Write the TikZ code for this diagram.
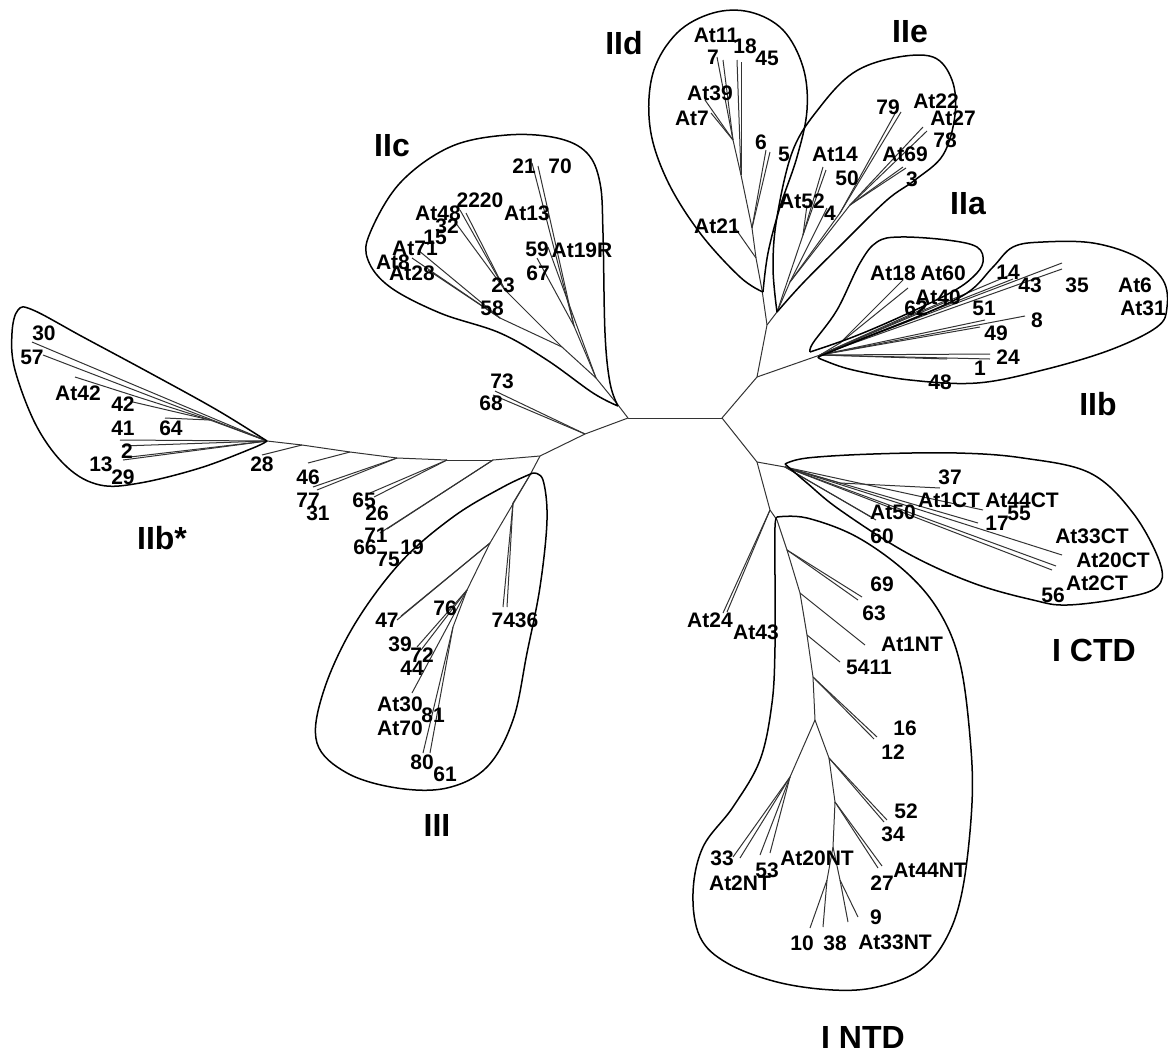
\documentclass[tikz,border=0pt]{standalone}
\usepackage{fontspec}
\setmainfont{Liberation Sans}

\begin{document}
\begin{tikzpicture}[x=1pt,y=-1pt,
  branch/.style={draw=black!80, line width=1pt},
  clade/.style={draw=black, line width=1.5pt, smooth, tension=0.6},
  leaf/.style={font=\fontsize{21}{21}\selectfont\bfseries, inner sep=0pt},
  group/.style={font=\fontsize{32}{32}\selectfont\bfseries, inner sep=0pt}]
\useasboundingbox (0,0) rectangle (1168,1053);

% inner nodes
\foreach \n/\x/\y in {L/628/418, R/722/418, c1/618/405, t1/585/434, t2/540/456,
    r1/757/377, r2/767/325, r3/820/355, d1/757/462, d2/770/510, ct/785/467,
    cb/596/378, cd/574/326, cc/562/347, ce/505/290, cf/500/318,
    i1/762/290, ia/756/258, ib/752/228, ic/741/175, id/733/140,
    e0/777/312, e1/790/282, e2/803/235, e3/840/213, e4/850/205,
    a1/840/343, k1/840/483,
    n1/777/520, n2/787/550, n3/800/593, n4/807/635, n5/813/677, n6/815/720,
    n7/790/777, n8/829/758, n9/835/802, n10/833/847, n11/827/880, n12/840/880,
    g1/530/475, g2/513/503, g3/490/543, g4/467/590, g5/453/627,
    w1/493/460, w2/447/460, w3/397/458, w4/350/452, w5/302/445,
    b0/267/441, bA/210/420}
  \coordinate (\n) at (\x,\y);

% leaf tips
\foreach \n/\x/\y in {30/32/342, 57/43/355, At42/75/377, 42/133/402, 64/165/418,
    41/120/440, 2/122/446, 13/123/460, 29/130/457, 28/262/455,
    46/308/463, 77/313/487, 31/317/490, 65/370/493, 26/374/497, 71/380/533, 75/387/529,
    7436a/503/607, 7436b/507/607, 47/397/620, 47b/401/616, 39/417/647, 72/421/650,
    At30/412/693, 80/423/753, 61/430/753, 73/495/391, 68/493/395,
    21/532/163, 70/538/166, 67/537/258, 59/548/247, At48/460/210, 2220/466/213,
    32/455/222, At71/418/250, At8/412/258, At28/428/270,
    At21/735/228, 6/766/150, 5/770/152, 18/737/60, 45/741/62, 7/717/57,
    At11/723/60, At39/705/100, At7/711/113,
    At14/823/167, 50/826/170, At52/807/205, 4/827/208, 79/897/110, At22/901/112,
    At27/923/127, 78/927/131, At69/903/167, 3/906/168,
    At18/903/280, At60/908/288, At40/947/300, 62/925/308,
    14/1010/275, 43/1013/279, At6/1062/263, At31/1062/269, 8/1025/316, 51/985/320,
    49/980/327, 24/990/354, 1/990/359, 48/947/359,
    37/940/488, At44CT/983/510, 17/978/523, At50/873/518, 60/876/520,
    At33CT/1062/555, At20CT/1056/566, At2CT/1052/570,
    69/862/597, 63/858/600, At1NT/865/645, 5411/840/662, 16/877/737, 12/874/739,
    52/887/820, 34/884/822, 27/878/868, At44NT/882/866, 33/733/857, At2NT/740/858,
    53/760/855, 53b/770/853, 10/810/928, 38/823/927, At33NT/848/922, 9/858/917,
    At24/723/613, At43/727/612}
  \coordinate (p\n) at (\x,\y);

% branches
\foreach \a/\b in {L/R, L/c1, L/t1, t1/t2, R/r1, r1/r2, r1/r3, R/d1, d1/d2, d1/ct,
    t1/p73, t1/p68,
    c1/cb, cb/cd, cd/p21, cd/p70, cd/p67, cb/p59, cb/cc, cc/ce, ce/pAt48, ce/p2220,
    ce/p32, cc/cf, cf/pAt71, cf/pAt8, cf/pAt28,
    r2/i1, i1/ia, ia/ib, ib/ic, ic/id, ia/pAt21, ib/p6, ib/p5, ic/p18, ic/p45,
    id/p7, id/pAt11, id/pAt39, id/pAt7,
    r2/e0, e0/e2, e2/pAt14, e2/p50, e2/pAt52, e0/e1, e1/p4, e1/e3, e3/p79, e3/pAt22,
    e1/e4, e4/pAt27, e4/p78, e4/pAt69, e4/p3,
    r3/a1, a1/pAt18, a1/pAt60, r3/pAt40, r3/p62,
    r3/p14, r3/p43, r3/pAt6, r3/pAt31, r3/p8, r3/p51, r3/p49, r3/p24, r3/p1, r3/p48,
    ct/k1, k1/p37, ct/pAt44CT, ct/p17, ct/pAt50, ct/p60, ct/pAt33CT, ct/pAt20CT, ct/pAt2CT,
    d2/n1, n1/n2, n2/n3, n3/n4, n4/n5, n5/n6, n2/p69, n2/p63, n3/pAt1NT, n4/p5411,
    n5/p16, n5/p12, n6/n7, n7/p33, n7/pAt2NT, n7/p53, n7/p53b, n6/n8, n8/n9, n9/n10,
    n8/p52, n8/p34, n9/p27, n9/pAt44NT, n10/n11, n11/p10, n11/p38, n10/n12,
    n12/pAt33NT, n12/p9, d2/pAt24, d2/pAt43,
    t2/g1, g1/g3, g1/g2, g2/p7436a, g2/p7436b, g3/p47, g3/p47b, g3/g4, g4/p39, g4/p72,
    g4/pAt30, g4/g5, g5/p80, g5/p61,
    t2/w1, w1/w2, w2/w3, w3/w4, w4/w5, w5/b0, w4/p46, w3/p77, w3/p31, w2/p65, w2/p26,
    w1/p71, w1/p75, w5/p28,
    b0/p30, b0/p57, b0/bA, bA/pAt42, bA/p42, bA/p64, b0/p41, b0/p2, b0/p13, b0/p29}
  \draw[branch] (\a) -- (\b);

% outlines of the groups
\draw[clade] plot coordinates {(267,441) (217,410) (150,373) (83,337) (33,310) (18,310)
  (12,333) (15,370) (37,427) (67,467) (100,485) (140,483) (200,468) (253,448) (267,441)};
\draw[clade] plot coordinates {(618,406) (610,383) (605,333) (603,233) (600,183) (587,153)
  (557,138) (507,135) (450,147) (400,183) (370,233) (368,260) (390,287) (440,313)
  (500,333) (547,360) (593,393) (618,406)};
\draw[clade] plot coordinates {(763,292) (740,277) (700,233) (667,180) (650,127) (653,73)
  (677,33) (713,13) (750,12) (783,30) (803,67) (807,110) (797,157) (780,207) (768,253)
  (763,292)};
\draw[clade] plot coordinates {(777,312) (773,267) (777,217) (793,150) (820,107) (853,73)
  (893,58) (933,57) (952,80) (955,115) (943,155) (915,180) (887,200) (843,243)
  (803,283) (777,312)};
\draw[clade] plot coordinates {(810,352) (813,343) (837,310) (860,263) (877,242) (900,237)
  (947,240) (977,247) (983,262) (973,277) (950,293) (900,317) (853,337) (810,352)};
\draw[clade] plot coordinates {(818,357) (867,337) (917,317) (967,293) (993,267) (1013,247)
  (1043,242) (1093,243) (1137,257) (1163,280) (1167,307) (1157,327) (1110,350)
  (1043,370) (977,383) (910,380) (853,370) (823,360) (818,357)};
\draw[clade] plot coordinates {(785,464) (807,458) (873,454) (957,453) (1023,458) (1090,473)
  (1133,513) (1160,563) (1157,587) (1123,598) (1067,605) (1033,600) (973,583)
  (907,553) (840,510) (807,483) (785,464)};
\draw[clade] plot coordinates {(777,517) (807,518) (857,537) (907,573) (940,613) (960,663)
  (970,737) (972,803) (963,887) (947,937) (920,970) (877,987) (833,990) (777,982)
  (727,963) (700,937) (693,893) (703,847) (733,807) (760,760) (772,703) (775,647)
  (775,580) (775,527) (777,517)};
\draw[clade] plot coordinates {(533,473) (543,480) (547,520) (540,587) (527,653) (513,720)
  (487,767) (447,788) (397,788) (347,773) (317,743) (323,693) (353,627) (400,563)
  (453,517) (503,487) (533,473)};

% leaf labels
\foreach \n/\x/\y in {30/44/333, 57/32/357, At42/78/393, 42/123/404, 41/123/428,
    64/171/428, 2/127/451, 13/101/464, 29/123/477, 28/262/464,
    46/308/477, 77/308/500, 31/318/513, 65/364/500, 26/377/513, 71/376/535,
    66/365/547, 75/388/559, 19/412/547,
    47/387/620, 76/445/608, 7436/515/620, 39/400/644, 72/422/655, 44/412/668,
    At30/400/704, 81/433/715, At70/400/728, 80/422/762, 61/445/774,
    2220/480/200, At48/438/213, 32/447/226, 15/435/237, At71/415/248, At8/393/262,
    At28/412/273, 23/503/285, 58/492/308, 21/524/166, 70/560/166, At13/527/213,
    59/537/249, At19R/582/250, 67/538/273, 73/502/381, 68/491/403,
    At11/716/35, 18/745/46, 45/767/58, 7/713/57, At39/710/93, At7/692/118,
    6/761/142, 5/784/154, At21/717/226,
    79/888/107, At22/936/101, At27/953/118, 78/945/140, At14/835/154, 50/847/178,
    At69/905/154, 3/912/179, At52/802/201, 4/830/213,
    At18/893/273, At60/943/273, At40/938/297, 62/916/308,
    14/1008/272, 43/1030/285, 35/1077/285, At6/1135/285, At31/1143/308, 51/984/308,
    8/1037/320, 49/996/333, 24/1008/357, 1/980/368, 48/940/382,
    37/950/477, At1CT/949/500, At44CT/1022/500, 55/1019/513, 17/997/523,
    At50/893/512, 60/882/536, At33CT/1092/536, At20CT/1113/560, At2CT/1097/583,
    56/1053/595,
    69/882/584, 63/874/613, At1NT/912/644, 5411/869/667, 16/905/728, 12/893/752,
    52/906/811, 34/893/834, At44NT/930/870, 27/882/883, 33/722/858, At2NT/740/883,
    53/767/870, At20NT/817/858, 9/876/917, At33NT/895/942, 10/802/943, 38/835/943,
    At24/710/620, At43/756/632}
  \node[leaf] (l\n) at (\x,\y) {\n};

% group names
\node[group] (gIIc) at (392,146) {IIc};
\node[group] (gIId) at (624,43) {IId};
\node[group] (gIIe) at (910,32) {IIe};
\node[group] (gIIa) at (968,204) {IIa};
\node[group] (gIIb) at (1098,404) {IIb};
\node[group] (gIIbs) at (162,538) {IIb*};
\node[group] (gIII) at (437,825) {III};
\node[group] (gCTD) at (1094,650) {I CTD};
\node[group] (gNTD) at (863,1037) {I NTD};
\end{tikzpicture}
\end{document}
